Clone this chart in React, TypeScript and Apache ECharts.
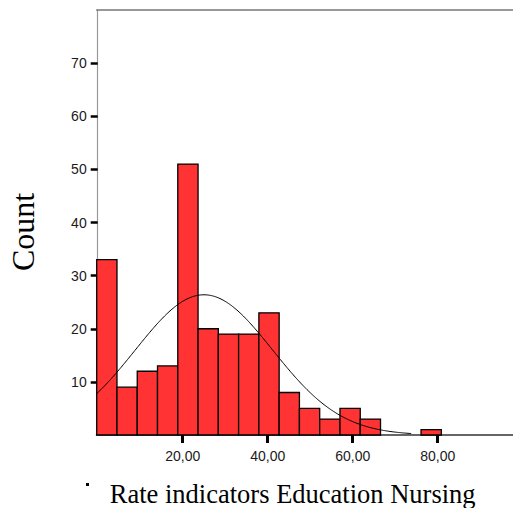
import React, { useEffect, useRef } from "react";
import * as echarts from "echarts";

// Histogram bins (counts)
const binCounts = [33, 9, 12, 13, 51, 20, 19, 19, 23, 8, 5, 3, 5, 3, 0, 0, 1];
const binStart = -0.235;
const binWidth = 4.77;
// Normal curve parameters
const curveMean = 25.0;
const curveSd = 16.15;
const totalN = binCounts.reduce((a, b) => a + b, 0);
const curveEnd = 74;
// Axis ticks
const xTicks = [20, 40, 60, 80];
const yTicks = [10, 20, 30, 40, 50, 60, 70];
const xTitle = "Rate indicators Education Nursing";
const yTitle = "Count";

export default function App() {
  const ref = useRef<HTMLDivElement>(null);
  useEffect(() => {
    if (!ref.current) return;
    const chart = echarts.init(ref.current, null, { renderer: "svg" });
    const barData = binCounts
      .map((c, i) => [binStart + i * binWidth, binStart + (i + 1) * binWidth, c])
      .filter((d) => d[2] > 0);
    const curve: number[][] = [];
    const peak = (totalN * binWidth) / (curveSd * Math.sqrt(2 * Math.PI));
    for (let x = binStart; x <= curveEnd; x += 0.25) {
      const z = (x - curveMean) / curveSd;
      curve.push([x, peak * Math.exp(-0.5 * z * z)]);
    }
    const fmt = (v: number) => v.toFixed(2).replace(".", ",");
    const sans = "'Liberation Sans', Arial, sans-serif";
    const serif = "'Liberation Serif', 'Times New Roman', serif";
    chart.setOption({
      animation: false,
      grid: { left: 96.7, right: 0, top: 10, bottom: 73 },
      xAxis: [
        {
          type: "value",
          min: binStart,
          max: 97.72,
          position: "bottom",
          axisLine: { show: true, lineStyle: { color: "#666", width: 2 } },
          axisTick: {
            show: true,
            customValues: xTicks,
            length: 8,
            lineStyle: { color: "#000", width: 3 },
          },
          axisLabel: {
            customValues: xTicks,
            formatter: (v: number) => fmt(v),
            margin: 14,
            fontSize: 14,
            fontFamily: sans,
            color: "#1a1a1a",
          },
          splitLine: { show: false },
        },
        {
          type: "value",
          min: binStart,
          max: 97.72,
          position: "top",
          axisLine: { show: true, lineStyle: { color: "#777", width: 1.5 } },
          axisTick: { show: false },
          axisLabel: { show: false },
          splitLine: { show: false },
        },
      ],
      yAxis: {
        type: "value",
        min: 0,
        max: 80,
        interval: 10,
        axisLine: { show: true, lineStyle: { color: "#999", width: 1.2 } },
        axisTick: {
          show: true,
          customValues: yTicks,
          length: 7,
          lineStyle: { color: "#000", width: 2.5 },
        },
        axisLabel: {
          customValues: yTicks,
          margin: 10,
          fontSize: 14,
          fontFamily: sans,
          color: "#1a1a1a",
        },
        splitLine: { show: false },
      },
      graphic: [
        {
          type: "text",
          x: 23,
          y: 232,
          rotation: Math.PI / 2,
          style: {
            text: yTitle,
            font: `32px ${serif}`,
            fill: "#000",
            align: "center",
            verticalAlign: "middle",
          },
        },
        {
          type: "text",
          x: 292.7,
          y: 494,
          style: {
            text: xTitle,
            font: `26.5px ${serif}`,
            fill: "#000",
            align: "center",
            verticalAlign: "middle",
          },
        },
        {
          type: "rect",
          shape: { x: 86, y: 483, width: 3, height: 3 },
          style: { fill: "#000" },
        },
      ],
      series: [
        {
          type: "custom",
          xAxisIndex: 0,
          data: barData,
          z: 2,
          renderItem: (params: any, api: any) => {
            const p0 = api.coord([api.value(0), api.value(2)]);
            const p1 = api.coord([api.value(1), 0]);
            return {
              type: "rect",
              shape: { x: p0[0], y: p0[1], width: p1[0] - p0[0], height: p1[1] - p0[1] },
              style: { fill: "#FF3333", stroke: "#000", lineWidth: 1.3 },
            };
          },
        },
        {
          type: "line",
          xAxisIndex: 0,
          data: curve,
          showSymbol: false,
          symbol: "none",
          z: 3,
          lineStyle: { color: "#000", width: 1 },
        },
      ],
    });
    return () => chart.dispose();
  }, []);
  return (
    <div
      ref={ref}
      style={{ position: "absolute", left: 0, top: 0, width: 513, height: 508, background: "#fff" }}
    />
  );
}
